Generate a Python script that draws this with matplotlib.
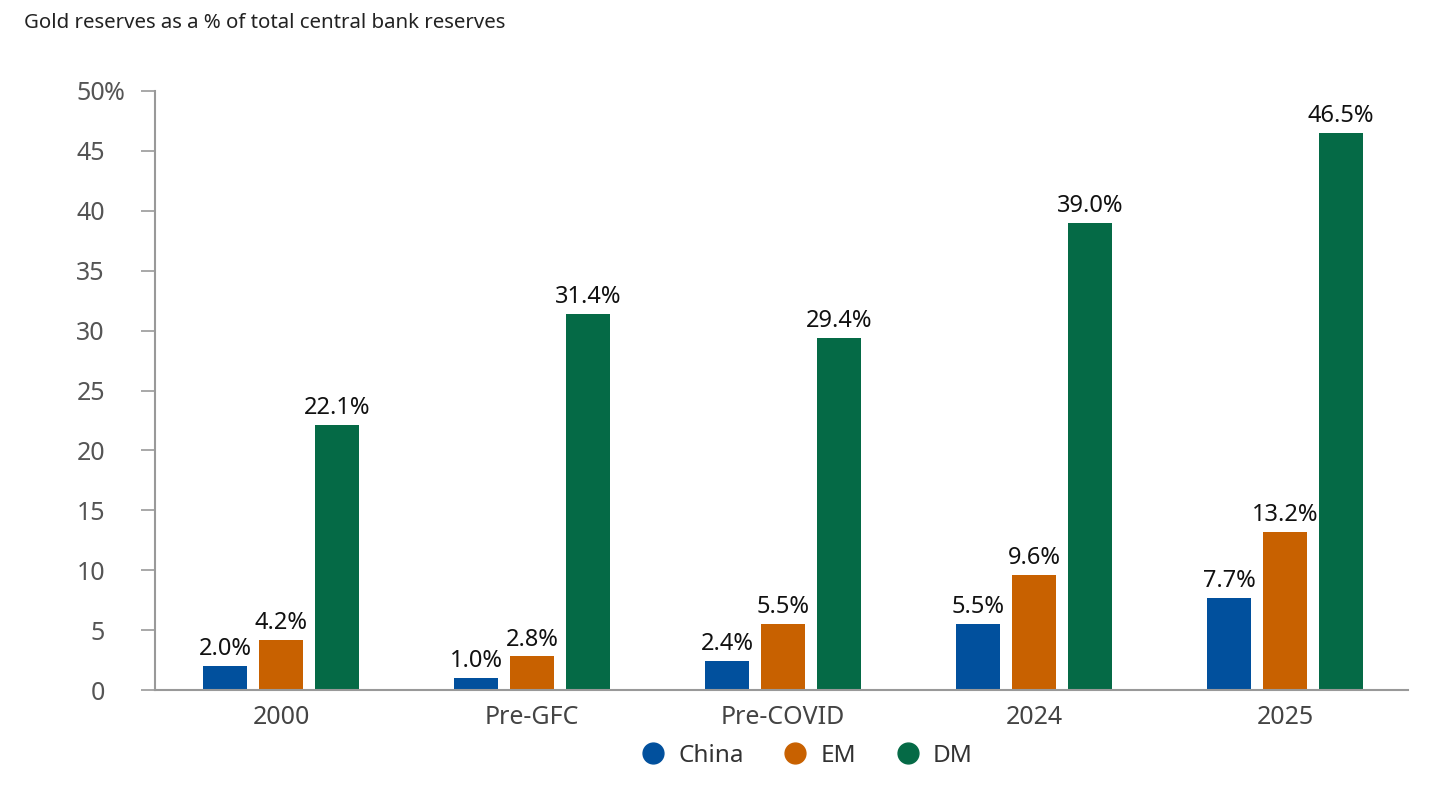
import matplotlib
matplotlib.use("Agg")
import matplotlib.pyplot as plt
import matplotlib.transforms as mtransforms
import numpy as np
from matplotlib.lines import Line2D

categories = ["2000", "Pre-GFC", "Pre-COVID", "2024", "2025"]
series_names = ["China", "EM", "DM"]
china = [2.0, 1.0, 2.4, 5.5, 7.7]
em = [4.2, 2.8, 5.5, 9.6, 13.2]
dm = [22.1, 31.4, 29.4, 39.0, 46.5]
yticks = [0, 5, 10, 15, 20, 25, 30, 35, 40, 45, 50]
ytick_labels = ["0", "5", "10", "15", "20", "25", "30", "35", "40", "45", "50"]
colors = ["#01509d", "#c86100", "#056a46"]

plt.rcParams['font.family'] = ['Noto Sans', 'DejaVu Sans']

fig = plt.figure(figsize=(14.4, 7.89), dpi=100)
ax = fig.add_axes([155/1440, 1 - 690/789, (1408-155)/1440, (690-91)/789])

x = np.arange(len(categories))
width = 0.175
offset = 0.223
for i, (vals, c) in enumerate(zip([china, em, dm], colors)):
    pos = x + (i - 1) * offset
    ax.bar(pos, vals, width=width, color=c, zorder=2)
    for xp, v in zip(pos, vals):
        ax.text(xp, v + 0.4, f"{v:.1f}%", ha="center", va="bottom",
                fontsize=17, color="#111111")

ax.set_xlim(-0.502, 4.490)
ax.set_ylim(0, 50)
ax.set_yticks(yticks)
ax.set_yticklabels(ytick_labels, fontsize=18, color="#555555")
ax.set_xticks(x)
ax.set_xticklabels(categories, fontsize=18, color="#444444")
ax.tick_params(axis="x", length=0, pad=11)
ax.tick_params(axis="y", length=10, width=1.2, color="#999999", pad=26)
for s in ["top", "right"]:
    ax.spines[s].set_visible(False)
for s in ["left", "bottom"]:
    ax.spines[s].set_color("#999999")
    ax.spines[s].set_linewidth(1.5)

# hanging percent sign on the top tick label
trans = mtransforms.blended_transform_factory(fig.transFigure, ax.transData)
ax.text(104/1440, 50, "%", transform=trans, ha="left", va="center_baseline",
        fontsize=18, color="#555555")

handles = [Line2D([0], [0], marker="o", linestyle="none", markersize=15,
                  markerfacecolor=c, markeredgecolor=c) for c in colors]
fig.legend(handles, series_names, loc="center", bbox_to_anchor=(807/1440, 1 - 756/789),
           ncol=3, frameon=False, fontsize=17.5, handlelength=1.0, handletextpad=0.55,
           columnspacing=1.6, labelcolor="#333333")

fig.text(24/1440, 1 - 23/789, "Gold reserves as a % of total central bank reserves",
         fontsize=14.7, color="#222222", va="center", ha="left")

fig.savefig("out.png", dpi=100)
